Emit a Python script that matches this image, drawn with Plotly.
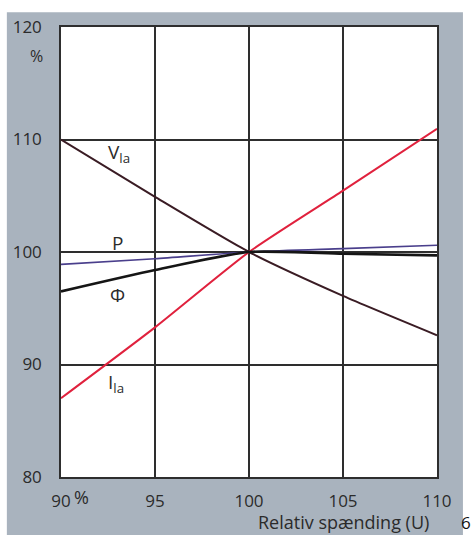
import plotly.graph_objects as go

# ── Data ──
u_pct   = [90, 95, 100, 105, 110]          # relative voltage, %
v_la    = [110.0, 104.9, 100.0, 96.1, 92.6]
i_la    = [87.0, 93.3, 100.0, 105.45, 110.95]
p_pct   = [98.9, 99.4, 100.0, 100.3, 100.6]
phi_pct = [96.5, 98.4, 100.0, 99.85, 99.7]

x_ticks = [90, 95, 100, 105, 110]
y_ticks = [80, 90, 100, 110, 120]

FONT = 'Open Sans'
TXT  = '#2b2b2b'
GRID = '#2e2e2e'
PANEL = '#a9b3be'

fig = go.Figure()

series = [
    (v_la,    '#3a1c24', 2.0),
    (i_la,    '#e0213d', 2.0),
    (p_pct,   '#4a3f8c', 1.6),
    (phi_pct, '#151515', 2.6),
]
for ys, color, width in series:
    fig.add_trace(go.Scatter(x=u_pct, y=ys, mode='lines',
        line=dict(color=color, width=width, shape='spline', smoothing=0.6),
        showlegend=False, hoverinfo='skip'))

# ── curve labels ──
labels = [
    (93.1, 108.8, 'V<sub>la</sub>'),
    (93.0, 100.8, 'P'),
    (93.0, 96.2,  'Φ'),
    (92.9, 88.4,  'I<sub>la</sub>'),
]
for x, y, t in labels:
    fig.add_annotation(x=x, y=y, text=t, showarrow=False,
                       font=dict(family=FONT, size=19, color=TXT))

# ── white strips around the gray panel (paper bg is the panel colour) ──
for x0, x1, y0, y1 in [(-0.2, -0.144, -0.2, 1.2),
                       (1.069, 1.2, -0.2, 1.2),
                       (-0.2, 1.2, 1.033, 1.2)]:
    fig.add_shape(type='rect', xref='paper', yref='paper', layer='above',
                  x0=x0, x1=x1, y0=y0, y1=y1,
                  fillcolor='white', line_width=0)

# ── extra text ──
def note(x, y, text, size=16, anchor='center', color=TXT):
    fig.add_annotation(xref='paper', yref='paper', x=x, y=y, text=text,
                       showarrow=False, xanchor=anchor, yanchor='middle',
                       font=dict(family=FONT, size=size, color=color))

note(-0.064, 0.935, '%')
note(0.055, -0.045, '%', size=18)
note(0.983, -0.1, 'Relativ spænding (U)', size=18, anchor='right')
note(1.076, -0.1, '6', size=17, color='#111111')

fig.update_xaxes(range=[90, 110], tickvals=x_ticks, ticks='',
                 showgrid=True, gridcolor=GRID, gridwidth=1.5,
                 showline=True, linecolor=GRID, linewidth=1.5, mirror=True,
                 zeroline=False, ticklabelstandoff=8,
                 tickfont=dict(family=FONT, size=17, color=TXT))
fig.update_yaxes(range=[80, 120], tickvals=y_ticks, ticks='',
                 showgrid=True, gridcolor=GRID, gridwidth=1.5,
                 showline=True, linecolor=GRID, linewidth=1.5, mirror=True,
                 zeroline=False, ticklabelstandoff=14,
                 tickfont=dict(family=FONT, size=17, color=TXT))

fig.update_layout(width=472, height=535,
                  margin=dict(l=61, r=35, t=27, b=58),
                  paper_bgcolor=PANEL, plot_bgcolor='white',
                  showlegend=False)

fig.write_html('out.html', config={'displayModeBar': False},
               post_script="document.body.style.margin='0px';")
